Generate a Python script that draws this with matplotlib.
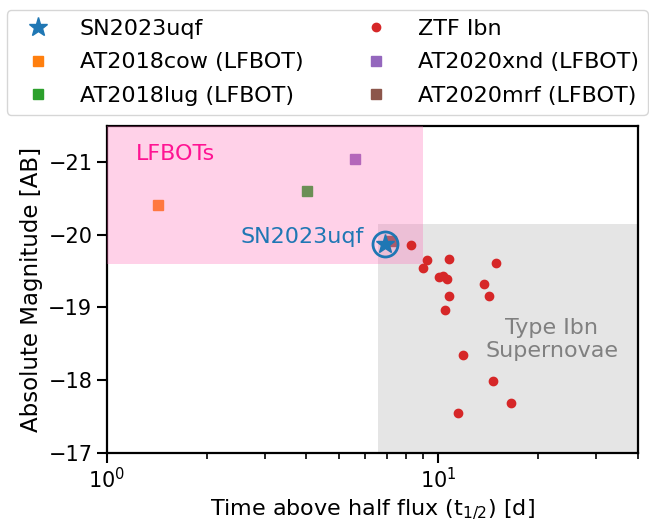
import numpy as np
import matplotlib
matplotlib.use('Agg')
import matplotlib.pyplot as plt

# --- data ---
sn_name = 'SN2023uqf'
sn_t12 = 6.9
sn_mag = -19.87

lfbot_names = ['AT2018cow (LFBOT)', 'AT2018lug (LFBOT)', 'AT2020xnd (LFBOT)', 'AT2020mrf (LFBOT)']
lfbot_t12 = [1.43, 4.01, 5.61, 7.19]
lfbot_mag = [-20.41, -20.61, -21.04, -19.91]

ztf_t12 = [8.26, 9.23, 10.77, 9.01, 14.96, 10.05, 10.35, 10.62,
           13.76, 10.75, 14.19, 10.50, 11.87, 14.59, 16.60, 11.47]
ztf_mag = [-19.86, -19.66, -19.67, -19.54, -19.61, -19.42, -19.44, -19.39,
           -19.32, -19.16, -19.16, -18.96, -18.35, -17.99, -17.68, -17.54]

# shaded regions (t1/2 range, magnitude range)
lfbot_box = (1.0, 9.0, -21.5, -19.6)
ibn_box = (6.6, 40.0, -20.15, -17.0)

fs = 16
fig = plt.figure(figsize=(6.49, 5.24), dpi=100)
ax = fig.add_axes([0.1649, 0.1361, 0.8177, 0.6235])

colors = plt.rcParams['axes.prop_cycle'].by_key()['color']

# markers, in legend order (column-wise fill)
ax.plot(sn_t12, sn_mag, '*', color=colors[0], ms=14, ls='none', label=sn_name, zorder=6)
ax.plot(sn_t12, sn_mag, 'o', mfc='none', mec=colors[0], mew=2, ms=18, zorder=6)
ax.plot(lfbot_t12[0], lfbot_mag[0], 's', color=colors[1], ms=7, ls='none', label=lfbot_names[0], zorder=2)
ax.plot(lfbot_t12[1], lfbot_mag[1], 's', color=colors[2], ms=7, ls='none', label=lfbot_names[1], zorder=2)
ax.plot(ztf_t12, ztf_mag, 'o', color=colors[3], ms=6, ls='none', label='ZTF Ibn', zorder=4)
ax.plot(lfbot_t12[2], lfbot_mag[2], 's', color=colors[4], ms=7, ls='none', label=lfbot_names[2], zorder=2)
ax.plot(lfbot_t12[3], lfbot_mag[3], 's', color=colors[5], ms=7, ls='none', label=lfbot_names[3], zorder=2)

# shaded boxes
ax.fill_between([lfbot_box[0], lfbot_box[1]], lfbot_box[2], lfbot_box[3],
                color='hotpink', alpha=0.3, lw=0, zorder=3)
ax.fill_between([ibn_box[0], ibn_box[1]], ibn_box[2], ibn_box[3],
                color='gray', alpha=0.2, lw=0, zorder=1)

ax.text(1.22, -21.12, 'LFBOTs', color='deeppink', fontsize=fs, ha='left', va='center')
ax.text(5.95, -19.97, sn_name, color=colors[0], fontsize=fs, ha='right', va='center')
ax.text(22.0, -18.56, 'Type Ibn\nSupernovae', color='gray', fontsize=fs,
        ha='center', va='center')

ax.set_xscale('log')
ax.set_xlim(1, 40)
ax.set_ylim(-17, -21.5)
ax.set_yticks([-17, -18, -19, -20, -21])
ax.set_xlabel(r'Time above half flux (t$_{1/2}$) [d]', fontsize=fs)
ax.set_ylabel('Absolute Magnitude [AB]', fontsize=16.5)
ax.tick_params(axis='both', which='major', labelsize=15, length=7, width=1.5)
ax.tick_params(axis='x', which='minor', length=4, width=1.2)
for sp in ax.spines.values():
    sp.set_linewidth(1.6)

ax.legend(loc='lower center', bbox_to_anchor=(0.415, 1.035), ncol=2, fontsize=fs,
          handletextpad=0.9, columnspacing=2.25, labelspacing=0.6, borderaxespad=0)

plt.savefig('out.png', dpi=100)
